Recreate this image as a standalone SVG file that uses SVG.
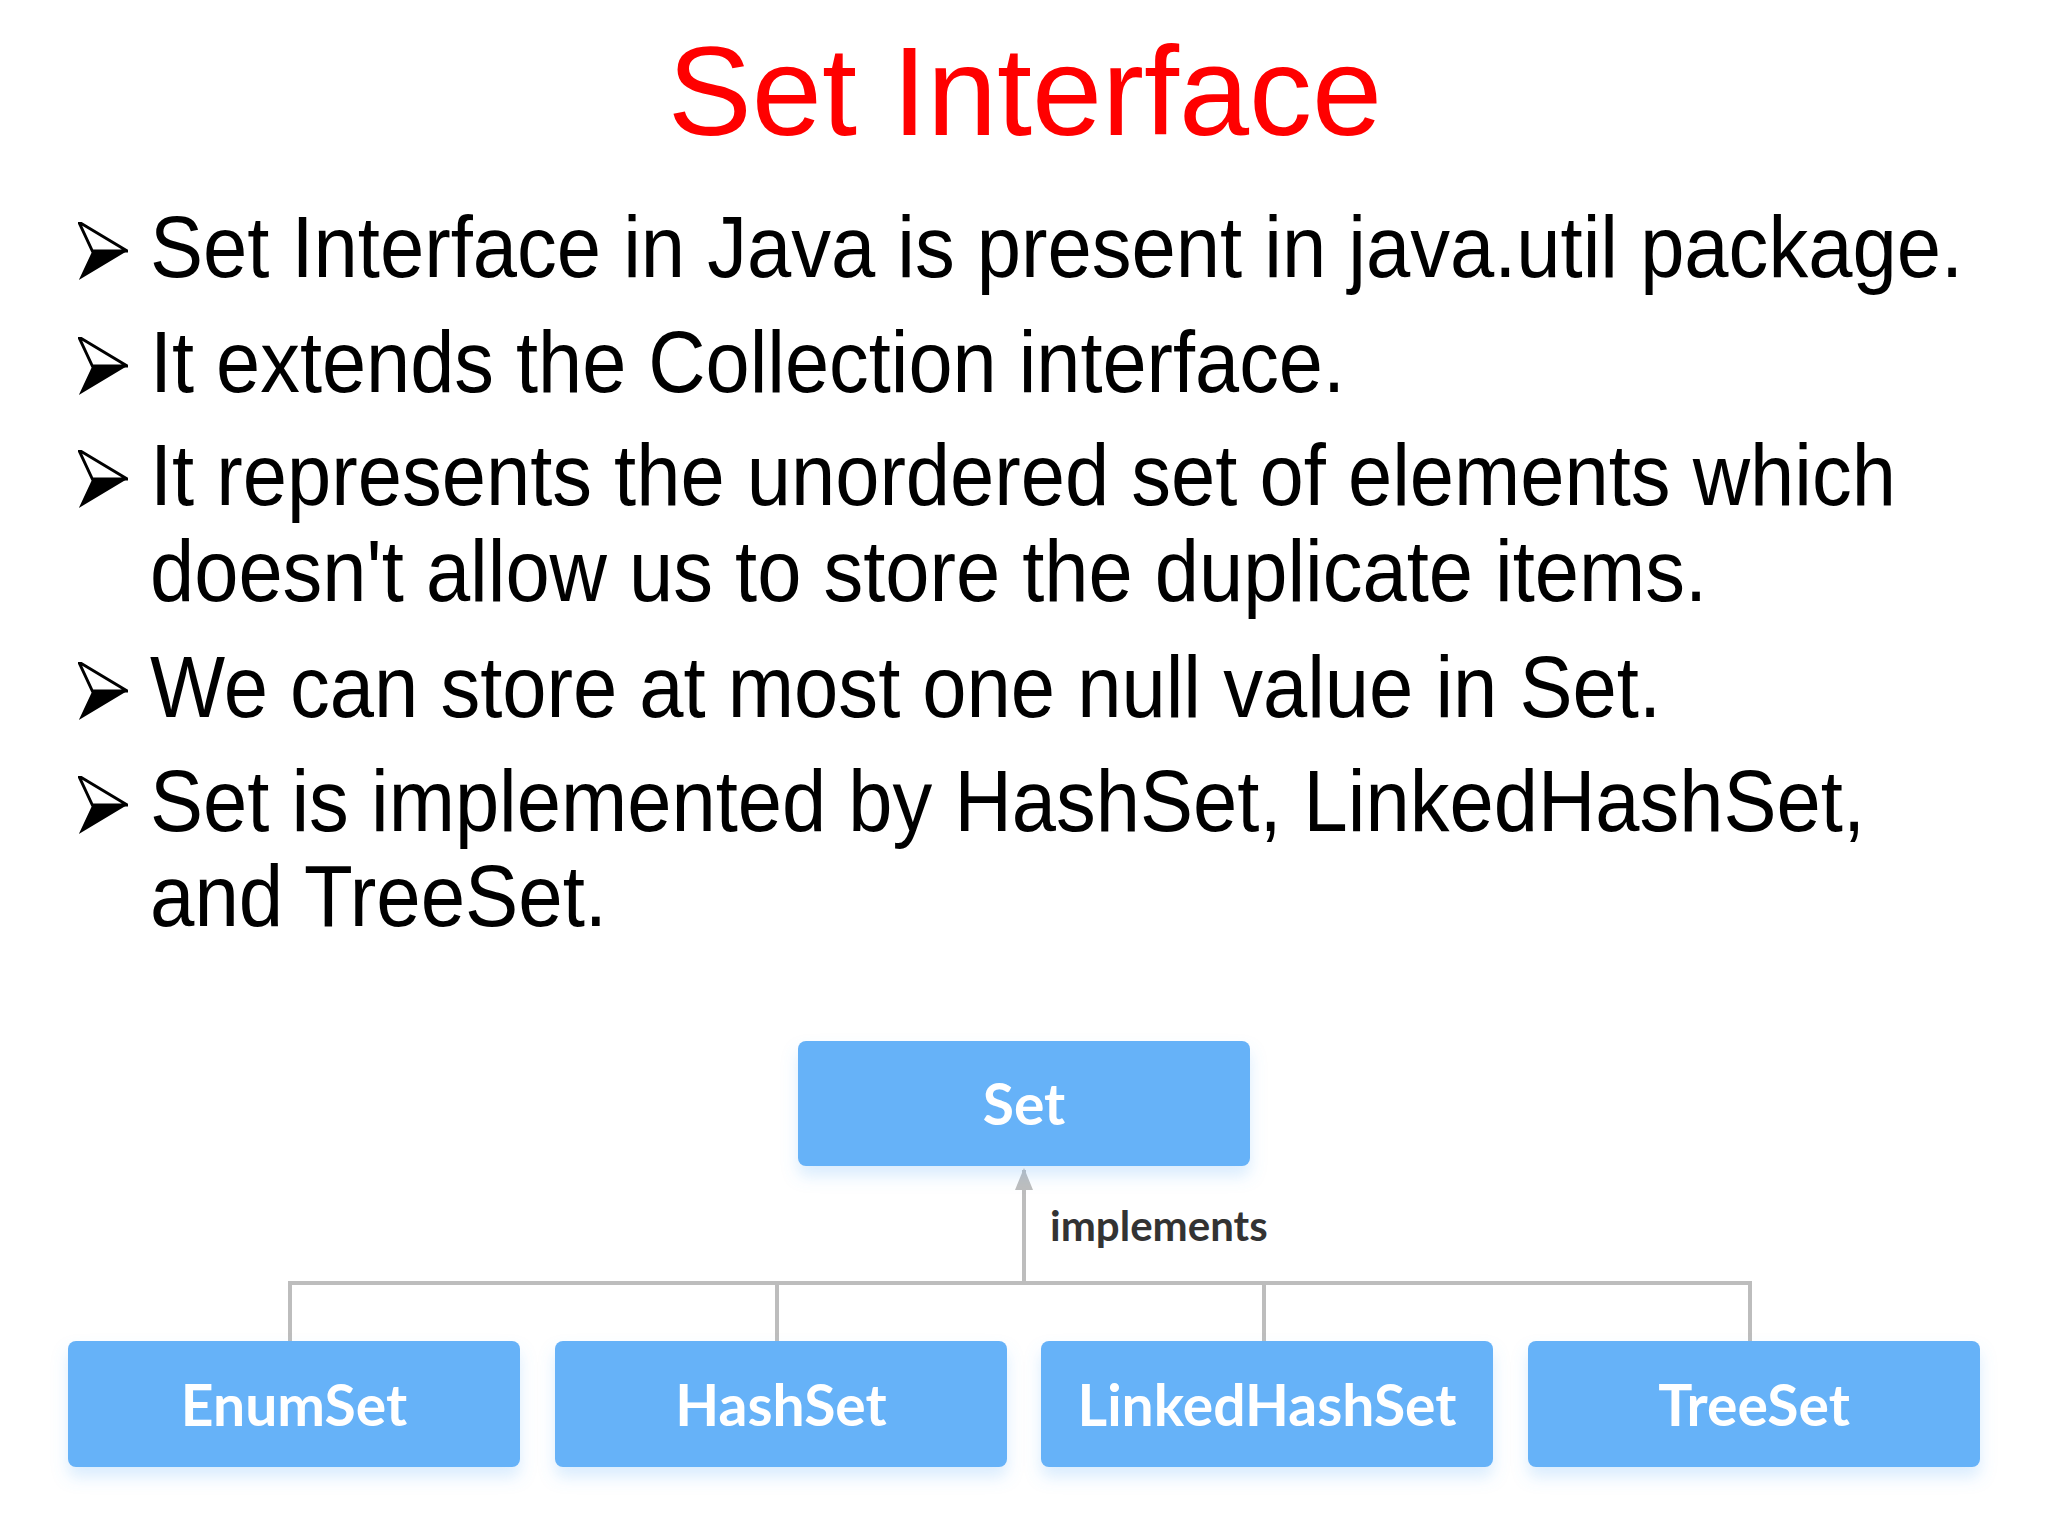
<svg xmlns="http://www.w3.org/2000/svg" width="2048" height="1536" viewBox="0 0 2048 1536">
<defs>
<style>
.b{font-family:"Liberation Sans",Arial,sans-serif;font-size:88px;fill:#000}
.n{fill:#66b2f8}
.nt{font-family:Lato,"Open Sans",sans-serif;font-weight:bold;font-size:57px;fill:#fff;text-anchor:middle}
.c{stroke:#bdbdbd;stroke-width:4;fill:none}
</style>
<marker id="ah" markerWidth="22" markerHeight="18" refX="20" refY="9" orient="auto" markerUnits="userSpaceOnUse" viewBox="0 0 22 18"><path d="M0,0 L22,9 L0,18 z" fill="#bdbdbd"/></marker>
<symbol id="bul" viewBox="0 0 50 60"><path d="M0,0 L50,30 L0,60 L14,30 z" fill="#000"/><path d="M0,0 L50,30 L14,30 z" fill="#fff" stroke="#000" stroke-width="3"/></symbol>
<filter id="sh" x="-10%" y="-10%" width="120%" height="140%"><feDropShadow dx="0" dy="10" stdDeviation="8" flood-color="#66b2f8" flood-opacity="0.25"/></filter>
</defs>
<rect width="2048" height="1536" fill="#fff"/>
<text x="1025" y="135" font-family="Liberation Sans,Arial,sans-serif" font-size="126" fill="#ff0000" text-anchor="middle">Set Interface</text>
<g id="bullets">
<use href="#bul" x="78" y="222" width="50" height="58"/>
<text class="b" x="150" y="277" textLength="1813" lengthAdjust="spacingAndGlyphs">Set Interface in Java is present in java.util package.</text>
<use href="#bul" x="78" y="337" width="50" height="58"/>
<text class="b" x="150" y="392" textLength="1195" lengthAdjust="spacingAndGlyphs">It extends the Collection interface.</text>
<use href="#bul" x="78" y="450" width="50" height="58"/>
<text class="b" x="150" y="505" textLength="1746" lengthAdjust="spacingAndGlyphs">It represents the unordered set of elements which</text>
<text class="b" x="150" y="601" textLength="1557" lengthAdjust="spacingAndGlyphs">doesn't allow us to store the duplicate items.</text>
<use href="#bul" x="78" y="662" width="50" height="58"/>
<text class="b" x="150" y="717" textLength="1511" lengthAdjust="spacingAndGlyphs">We can store at most one null value in Set.</text>
<use href="#bul" x="78" y="776" width="50" height="58"/>
<text class="b" x="150" y="831" textLength="1715" lengthAdjust="spacingAndGlyphs">Set is implemented by HashSet, LinkedHashSet,</text>
<text class="b" x="150" y="926" textLength="457" lengthAdjust="spacingAndGlyphs">and TreeSet.</text>
</g>
<g id="connectors">
<path class="c" d="M290,1341 V1283 H1750 V1341 M777,1283 V1341 M1264,1283 V1341"/>
<path class="c" d="M1024,1283 V1170" marker-end="url(#ah)"/>
<text x="1050" y="1241" font-family="Lato,'Open Sans',sans-serif" font-weight="bold" font-size="42" fill="#333">implements</text>
</g>
<g id="set"><rect class="n" x="798" y="1041" width="452" height="125" rx="8" filter="url(#sh)"/><text class="nt" x="1024" y="1125">Set</text></g>
<g id="enumset"><rect class="n" x="68" y="1341" width="452" height="126" rx="8" filter="url(#sh)"/><text class="nt" x="294" y="1426">EnumSet</text></g>
<g id="hashset"><rect class="n" x="555" y="1341" width="452" height="126" rx="8" filter="url(#sh)"/><text class="nt" x="781" y="1426">HashSet</text></g>
<g id="linkedhashset"><rect class="n" x="1041" y="1341" width="452" height="126" rx="8" filter="url(#sh)"/><text class="nt" x="1267" y="1426">LinkedHashSet</text></g>
<g id="treeset"><rect class="n" x="1528" y="1341" width="452" height="126" rx="8" filter="url(#sh)"/><text class="nt" x="1754" y="1426">TreeSet</text></g>
</svg>
